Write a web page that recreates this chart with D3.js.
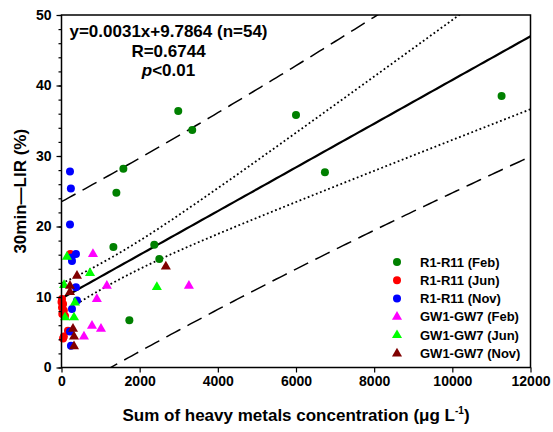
<!DOCTYPE html>
<html>
<head>
<meta charset="utf-8">
<script src="https://cdn.jsdelivr.net/npm/d3@7"></script>
<style>
body { margin: 0; background: #fff; }
text { font-family: Arial, "Liberation Sans", sans-serif; font-weight: bold; fill: #000; }
</style>
</head>
<body>
<div id="chart"></div>
<script>
// x = sum of heavy metals (ug/L), y = 30min-LIR (%)
var riverFeb = [[1328,17.1],[1404,24.8],[1583,28.2],[1736,6.7],[2374,17.4],[2502,15.4],[2987,36.4],[3345,33.7],[6000,35.8],[6740,27.7],[11260,38.5]];
var riverJun = [[13,9.7],[40,9.0],[13,8.5],[60,8.1],[20,7.6],[40,4.1],[60,4.4],[165,5.2],[225,16.1],[0,9.3],[90,7.3]];
var riverNov = [[217,27.8],[240,25.4],[217,20.3],[370,16.1],[268,15.1],[255,15.6],[370,11.4],[396,9.5],[268,8.3],[217,5.1],[242,3.1]];
var gwFeb = [[805,16.1],[1160,11.6],[905,9.7],[780,5.9],[1010,5.5],[575,4.4],[3260,11.6]];
var gwJun = [[140,15.7],[730,13.4],[65,11.7],[345,9.2],[90,7.1],[320,7.1],[2440,11.4]];
var gwNov = [[396,13.0],[217,11.6],[217,10.7],[294,5.5],[320,4.4],[320,3.0],[2670,14.3]];

var seriesNames = ["R1-R11 (Feb)", "R1-R11 (Jun)", "R1-R11 (Nov)", "GW1-GW7 (Feb)", "GW1-GW7 (Jun)", "GW1-GW7 (Nov)"];
var xTicks = [0, 2000, 4000, 6000, 8000, 10000, 12000];
var yTicks = [0, 10, 20, 30, 40, 50];

// fit from the paper
var slope = 0.0031, intercept = 9.7864;

var series = [
    {name: seriesNames[0], data: riverFeb, color: "#008000", shape: "circle"},
    {name: seriesNames[1], data: riverJun, color: "#ff0000", shape: "circle"},
    {name: seriesNames[2], data: riverNov, color: "#0000ff", shape: "circle"},
    {name: seriesNames[3], data: gwFeb, color: "#ff00ff", shape: "triangle"},
    {name: seriesNames[4], data: gwJun, color: "#00ff00", shape: "triangle"},
    {name: seriesNames[5], data: gwNov, color: "#800000", shape: "triangle"}
];

var margin = {top: 15, right: 22.5, bottom: 64.5, left: 61.5},
    width = 553 - margin.left - margin.right,
    height = 432 - margin.top - margin.bottom;

var x = d3.scaleLinear().domain([0, 12000]).range([0, width]);
var y = d3.scaleLinear().domain([0, 50]).range([height, 0]);

var svg = d3.select("#chart").append("svg")
    .attr("width", 553)
    .attr("height", 432);

var g = svg.append("g")
    .attr("transform", "translate(" + margin.left + "," + margin.top + ")");

g.append("clipPath").attr("id", "clip")
  .append("rect").attr("width", width).attr("height", height);

// regression stats for the bands
var all = [].concat(riverFeb, riverJun, riverNov, gwFeb, gwJun, gwNov);
var n = all.length;
var xm = d3.mean(all, function(d) { return d[0]; });
var sxx = d3.sum(all, function(d) { return (d[0] - xm) * (d[0] - xm); });
var sse = d3.sum(all, function(d) { var r = d[1] - (slope * d[0] + intercept); return r * r; });
var s = Math.sqrt(sse / (n - 2));
var tval = 2.0066;

function fit(v) { return slope * v + intercept; }
function half(v, extra) { return tval * s * Math.sqrt(extra + 1 / n + (v - xm) * (v - xm) / sxx); }

var grid = d3.range(0, 12001, 100);
var line = d3.line()
    .x(function(d) { return x(d[0]); })
    .y(function(d) { return y(d[1]); });

var lines = g.append("g").attr("clip-path", "url(#clip)");

var bands = [
    {f: function(v) { return fit(v) + half(v, 1); }, dash: "16,8", w: 1.5},
    {f: function(v) { return fit(v) - half(v, 1); }, dash: "16,8", w: 1.5},
    {f: function(v) { return fit(v) + half(v, 0); }, dash: "1.8,2.6", w: 1.8},
    {f: function(v) { return fit(v) - half(v, 0); }, dash: "1.8,2.6", w: 1.8},
    {f: fit, dash: null, w: 2.2}
];
bands.forEach(function(b) {
    lines.append("path")
        .attr("d", line(grid.map(function(v) { return [v, b.f(v)]; })))
        .attr("fill", "none")
        .attr("stroke", "#000")
        .attr("stroke-width", b.w)
        .attr("stroke-dasharray", b.dash);
});

var tri = d3.symbol().type(d3.symbolTriangle).size(44);

function drawMark(sel, sh, color) {
    if (sh == "circle") {
        sel.append("circle").attr("r", 4).attr("fill", color);
    } else {
        sel.append("path").attr("d", tri()).attr("fill", color);
    }
}

series.forEach(function(sr) {
    sr.data.forEach(function(d) {
        var m = g.append("g").attr("transform", "translate(" + x(d[0]) + "," + y(d[1]) + ")");
        drawMark(m, sr.shape, sr.color);
    });
});

// axes
var xAxis = d3.axisBottom(x).tickValues(xTicks).tickSize(5).tickPadding(4).tickFormat(d3.format("d"));
var yMinor = d3.axisLeft(y).tickValues(d3.range(0, 51, 2)).tickSize(3).tickFormat("");
var yAxis = d3.axisLeft(y).tickValues(yTicks).tickSize(5).tickPadding(5);

g.append("g").attr("transform", "translate(0," + height + ")").call(xAxis);
g.append("g").call(yMinor);
g.append("g").call(yAxis);
g.selectAll(".domain").remove();
g.selectAll(".tick text").style("font-size", "14px").style("font-family", "Arial, 'Liberation Sans', sans-serif").style("font-weight", "bold");
g.selectAll(".tick line").attr("stroke-width", 1.2);

g.append("rect")
    .attr("width", width).attr("height", height)
    .attr("fill", "none").attr("stroke", "#000").attr("stroke-width", 1.5);

// equation
var eq = g.append("g").attr("transform", "translate(107,0)").style("font-size", "17px");
eq.append("text").attr("y", 22).attr("text-anchor", "middle").text("y=0.0031x+9.7864 (n=54)");
eq.append("text").attr("y", 42).attr("text-anchor", "middle").text("R=0.6744");
var pt = eq.append("text").attr("y", 61).attr("text-anchor", "middle");
pt.append("tspan").style("font-style", "italic").text("p");
pt.append("tspan").text("<0.01");

// legend
var legend = g.append("g").attr("transform", "translate(" + (397 - margin.left) + "," + (262 - margin.top) + ")");
series.forEach(function(sr, i) {
    var row = legend.append("g").attr("transform", "translate(0," + (i * 18.3) + ")");
    drawMark(row, sr.shape, sr.color);
    row.append("text").attr("x", 23).attr("dy", "0.35em").style("font-size", "13px").text(sr.name);
});

// axis titles
var xt = svg.append("text")
    .attr("x", margin.left + width / 2).attr("y", 421)
    .attr("text-anchor", "middle").style("font-size", "17px");
xt.append("tspan").text("Sum of heavy metals concentration (\u03bcg L");
xt.append("tspan").attr("dy", -7).style("font-size", "10px").text("-1");
xt.append("tspan").attr("dy", 7).text(")");

svg.append("text")
    .attr("transform", "translate(26," + (margin.top + height / 2) + ") rotate(-90)")
    .attr("text-anchor", "middle").style("font-size", "17px")
    .text("30min\u2014LIR (%)");
</script>
</body>
</html>
